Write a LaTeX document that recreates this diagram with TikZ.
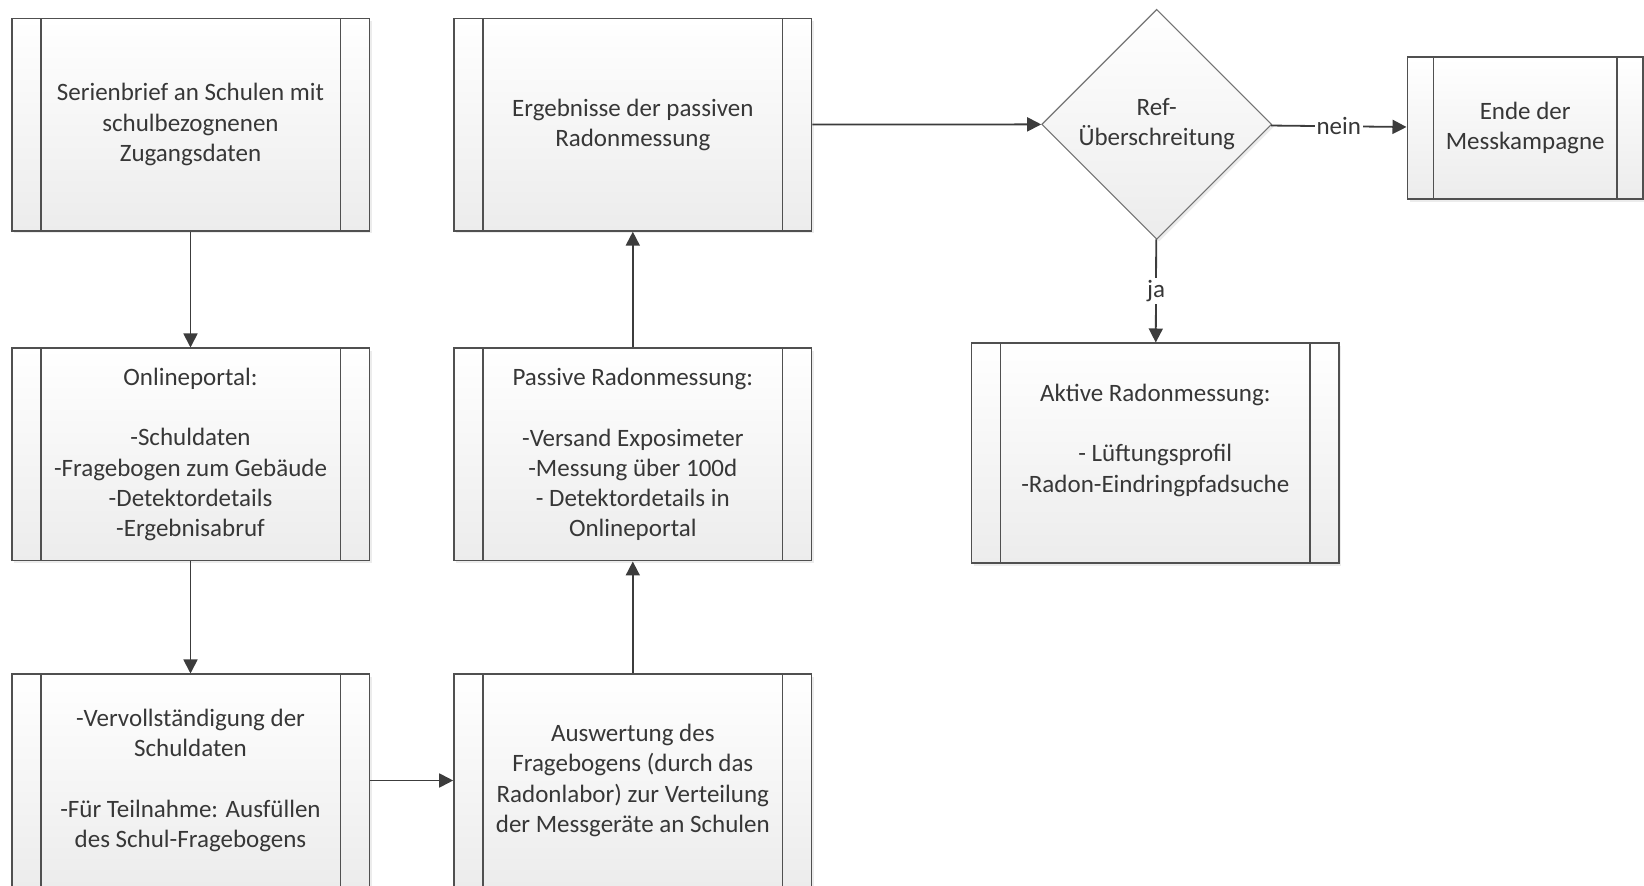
\documentclass[tikz,border=0pt]{standalone}
\usepackage{fontspec}
\setmainfont{Carlito}
\usepackage{tikz}
\usetikzlibrary{arrows.meta,positioning,shapes.geometric,shadows}
\usepackage{xcolor}
\definecolor{boxline}{RGB}{80,80,80}
\definecolor{boxfill}{RGB}{236,236,236}
\definecolor{txtgray}{RGB}{55,55,55}
\definecolor{arrowgray}{RGB}{60,60,60}
\definecolor{diamline}{RGB}{115,115,115}
\newcommand\boxfont{\fontsize{12.5pt}{15.15pt}\selectfont}
\tikzset{
  barwidth/.store in=\procbar, barwidth=14.5pt,
  procbox/.style={draw=boxline,line width=0.8pt,top color=white,bottom color=boxfill,
    minimum width=178.8pt,minimum height=106.2pt,align=center,inner sep=0pt,
    font=\boxfont,text=txtgray,
    drop shadow={shadow xshift=1.2pt,shadow yshift=-1.2pt,opacity=0.15,fill=black!50},
    path picture={\draw[boxline,line width=0.8pt]
      ([xshift=\procbar]path picture bounding box.north west) -- ([xshift=\procbar]path picture bounding box.south west)
      ([xshift=-\procbar]path picture bounding box.north east) -- ([xshift=-\procbar]path picture bounding box.south east);}},
  decision/.style={diamond,draw=diamline,line width=0.55pt,top color=white,bottom color=boxfill,
    minimum width=115pt,minimum height=115pt,inner sep=0pt,align=center,font=\boxfont,text=txtgray,
    drop shadow={shadow xshift=1.2pt,shadow yshift=-1.2pt,opacity=0.15,fill=black!50}},
  flow/.style={-{Triangle[length=7pt,width=7pt]},line width=0.9pt,draw=arrowgray},
  edgelabel/.style={font=\boxfont,text=txtgray,fill=white,inner sep=1pt}
}
\begin{document}
\begin{tikzpicture}[x=0.5pt,y=-0.5pt]
  \useasboundingbox (0,0) rectangle (1644,886);
  \clip (0,0) rectangle (1644,886);
  \node[procbox] (ser) at (190.5,124.7) {Serienbrief an Schulen mit\\schulbezognenen\\Zugangsdaten};
  \node[procbox] (portal) at (190.5,454.5) {Onlineportal:\\~\\-Schuldaten\\-Fragebogen zum Gebäude\\-Detektordetails\\-Ergebnisabruf};
  \node[procbox] (vollst) at (190.5,780.5) {-Vervollständigung der\\Schuldaten\\~\\-Für Teilnahme: Ausfüllen\\des Schul-Fragebogens};
  \node[procbox] (erg) at (632.8,124.7) {Ergebnisse der passiven\\Radonmessung};
  \node[procbox] (pas) at (632.8,454.5) {Passive Radonmessung:\\~\\-Versand Exposimeter\\-Messung über 100d\\- Detektordetails in\\Onlineportal};
  \node[procbox] (ausw) at (632.8,780.5) {Auswertung des\\Fragebogens (durch das\\Radonlabor) zur Verteilung\\der Messgeräte an Schulen};
  \node[decision] (ref) at (1156.7,124.3) {Ref-\\Überschreitung};
  \node[procbox,minimum width=117.9pt,minimum height=71pt,barwidth=13pt] (ende) at (1525.2,128.3) {Ende der\\Messkampagne};
  \node[procbox,minimum width=183.7pt,minimum height=110pt] (akt) at (1155.3,453.3) {Aktive Radonmessung:\\~\\- Lüftungsprofil\\-Radon-Eindringpfadsuche\\~};
  \draw[flow] (ser) -- (portal);
  \draw[flow] (portal) -- (vollst);
  \draw[flow] (vollst) -- (ausw);
  \draw[flow] (ausw) -- (pas);
  \draw[flow] (pas) -- (erg);
  \draw[flow] (erg) -- (ref);
  \draw[flow] (ref) -- node[edgelabel] {nein} (ende);
  \draw[flow] (ref) -- node[edgelabel] {ja} (akt);
\end{tikzpicture}
\end{document}
